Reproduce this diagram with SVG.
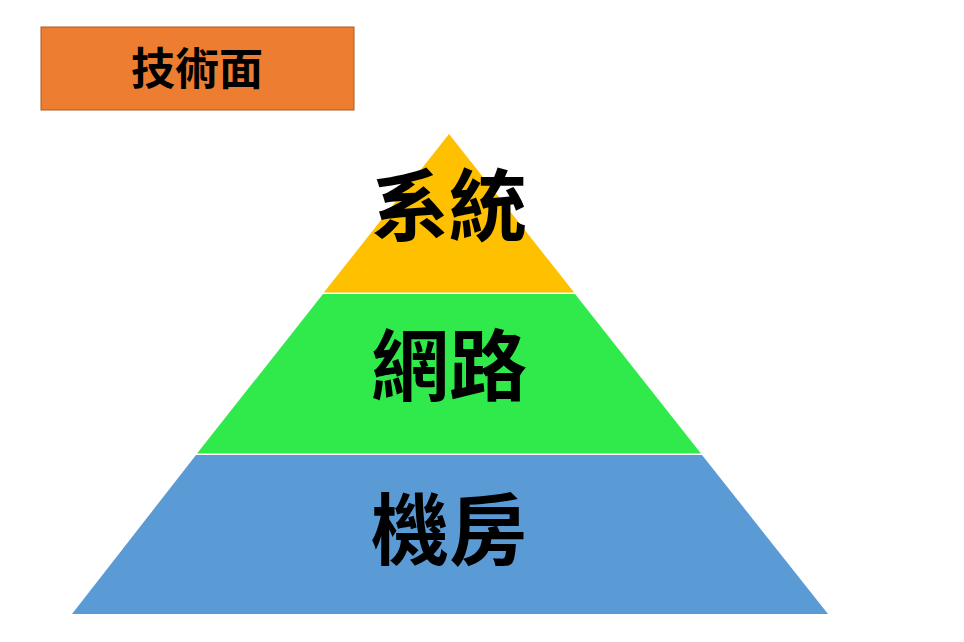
<svg xmlns="http://www.w3.org/2000/svg" width="964" height="642" viewBox="0 0 964 642">
<style>
.t{font-family:"Noto Sans CJK TC","Noto Sans CJK SC",sans-serif;font-weight:bold;fill:#000;text-anchor:middle}
.big{font-size:78px}
</style>
<rect width="964" height="642" fill="#fff"/>
<g id="title">
<rect x="41" y="27" width="313" height="83" fill="#ED7D31" stroke="#AE5A21" stroke-width="1"/>
<text class="t" x="197" y="85" font-size="44">技術面</text>
</g>
<g id="layer-system">
<polygon points="449,134 574.2,292.6 323.8,292.6" fill="#FFC000"/>
<text class="t big" x="449" y="235">系統</text>
</g>
<g id="layer-network">
<polygon points="323,294 575,294 701,453.6 197,453.6" fill="#2FEA4A"/>
<text class="t big" x="449" y="395">網路</text>
</g>
<g id="layer-datacenter">
<polygon points="196,455 702,455 828,614 72,614" fill="#5B9BD5"/>
<text class="t big" x="449" y="559">機房</text>
</g>
<g id="connectors"></g>
</svg>
